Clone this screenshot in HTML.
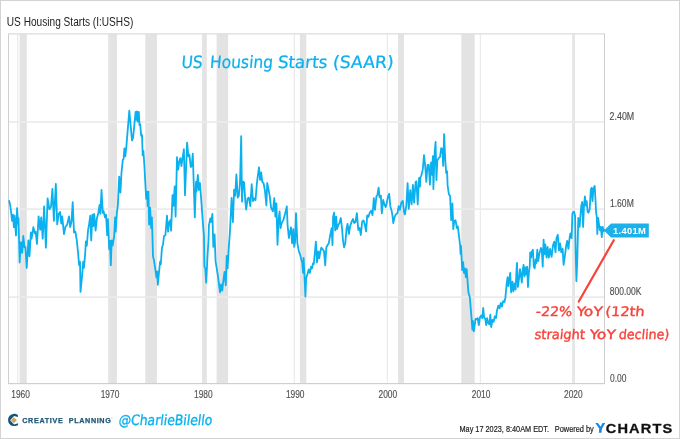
<!DOCTYPE html>
<html lang="en"><head><meta charset="utf-8"><title>US Housing Starts (I:USHS)</title>
<style>
html,body{margin:0;padding:0;background:#fff}
body{width:680px;height:439px;overflow:hidden}
svg{display:block;will-change:transform}
text{font-family:"Liberation Sans",sans-serif}
.ax text{font-size:10px;fill:#505050;stroke:#505050;stroke-width:0.15px}
.hand text{font-family:"DejaVu Sans","Liberation Sans",sans-serif}
</style></head><body>
<svg width="680" height="439" viewBox="0 0 680 439">
<rect x="0" y="0" width="680" height="439" fill="#fff"/>
<rect x="0.5" y="0.5" width="679" height="438" fill="none" stroke="#d3d3d3" stroke-width="1"/>
<text x="6.8" y="25.6" font-size="12" fill="#222" textLength="126.5" lengthAdjust="spacingAndGlyphs">US Housing Starts (I:USHS)</text>
<g><rect x="19.6" y="34" width="7.2" height="349" fill="#e3e3e3"/><rect x="108.2" y="34" width="8.7" height="349" fill="#e3e3e3"/><rect x="145.3" y="34" width="11.6" height="349" fill="#e3e3e3"/><rect x="202.0" y="34" width="4.8" height="349" fill="#e3e3e3"/><rect x="216.6" y="34" width="11.5" height="349" fill="#e3e3e3"/><rect x="299.9" y="34" width="6.4" height="349" fill="#e3e3e3"/><rect x="398.1" y="34" width="5.9" height="349" fill="#e3e3e3"/><rect x="461.3" y="34" width="13.4" height="349" fill="#e3e3e3"/><rect x="572.2" y="34" width="2.7" height="349" fill="#e3e3e3"/></g>
<g><rect x="17.2" y="34" width="1" height="349" fill="#e6e6e6"/><rect x="109.7" y="34" width="1" height="349" fill="#e6e6e6"/><rect x="202.3" y="34" width="1" height="349" fill="#e6e6e6"/><rect x="293.8" y="34" width="1" height="349" fill="#e6e6e6"/><rect x="386.8" y="34" width="1" height="349" fill="#e6e6e6"/><rect x="479.8" y="34" width="1" height="349" fill="#e6e6e6"/><rect x="572.9" y="34" width="1" height="349" fill="#e6e6e6"/></g>
<g><rect x="9" y="121.15" width="595" height="1.7" fill="#ebebeb"/><rect x="9" y="208.25" width="595" height="1.7" fill="#ebebeb"/><rect x="9" y="296.25" width="595" height="1.7" fill="#ebebeb"/></g>
<rect x="8" y="33.2" width="597" height="1.3" fill="#dedede"/>
<rect x="8" y="34" width="1" height="350" fill="#cfcfcf"/>
<rect x="604" y="34" width="1" height="350" fill="#cfcfcf"/>
<rect x="8" y="383" width="597" height="1.2" fill="#cfcfcf"/>
<path d="M9.2 201.0 L10.3 205.8 L11.2 213.0 L12.1 220.9 L13.0 214.7 L13.9 227.1 L14.6 215.6 L16.0 235.5 L17.1 208.1 L18.0 223.6 L18.5 218.2 L19.6 262.6 L21.0 242.1 L22.2 252.8 L23.3 236.0 L24.5 247.4 L25.4 247.0 L26.7 267.9 L28.4 240.3 L29.5 256.3 L30.9 232.4 L31.6 238.7 L33.4 227.1 L34.8 233.3 L35.6 231.6 L37.0 244.0 L38.6 216.4 L40.2 229.8 L41.2 217.3 L42.7 238.7 L44.1 206.3 L45.9 247.7 L47.6 198.3 L49.4 209.3 L51.0 206.7 L52.4 188.9 L53.9 220.9 L55.8 183.9 L57.2 224.4 L58.7 213.8 L60.1 212.0 L61.3 223.6 L62.2 216.4 L64.0 234.2 L65.4 227.1 L67.2 224.4 L69.0 216.4 L70.2 227.1 L71.5 221.8 L72.7 202.2 L74.0 232.4 L75.4 231.6 L76.8 240.4 L78.0 252.0 L79.1 265.2 L80.0 261.7 L80.5 291.9 L82.1 275.9 L83.2 261.7 L83.9 267.9 L85.0 256.0 L85.9 241.3 L86.8 245.8 L88.0 230.7 L89.2 223.6 L90.3 215.6 L91.2 240.4 L92.4 214.7 L93.3 226.2 L94.2 213.8 L95.6 230.7 L96.9 218.2 L98.3 212.9 L99.6 204.9 L100.4 213.8 L101.5 189.8 L102.8 212.9 L103.6 211.1 L104.9 217.3 L106.0 214.7 L107.2 235.1 L107.9 219.1 L109.2 249.2 L110.0 241.0 L110.8 265.2 L111.7 240.3 L112.6 245.7 L113.5 240.0 L114.2 236.0 L115.1 217.4 L115.7 231.6 L116.9 212.1 L117.8 206.0 L119.2 176.6 L120.4 192.6 L121.5 172.5 L122.8 159.9 L123.6 159.0 L124.4 148.3 L125.3 156.4 L126.3 147.4 L129.3 110.6 L132.0 140.3 L133.1 137.7 L135.6 111.9 L136.4 119.9 L137.0 111.4 L137.7 121.7 L138.8 111.9 L139.5 125.2 L140.2 124.3 L141.2 135.9 L142.0 135.0 L142.7 155.4 L143.4 151.0 L144.4 166.0 L145.3 182.8 L146.2 198.8 L147.1 191.7 L147.7 205.9 L148.4 191.7 L149.1 224.6 L150.1 207.7 L151.2 228.1 L151.9 217.4 L153.0 256.3 L153.9 259.9 L155.5 270.6 L156.5 277.7 L157.2 271.4 L157.8 284.8 L159.0 272.3 L160.1 261.7 L160.8 264.3 L161.9 248.3 L163.1 243.9 L164.0 236.1 L165.4 235.2 L167.0 215.7 L168.1 231.7 L169.3 221.9 L170.4 220.1 L171.1 230.8 L172.5 195.2 L173.4 205.9 L174.7 186.3 L175.6 216.6 L177.0 157.2 L178.2 169.7 L179.1 162.6 L180.4 158.1 L181.4 166.1 L182.7 157.2 L183.9 149.2 L185.0 195.2 L187.1 142.6 L188.4 156.3 L189.4 154.6 L190.7 167.0 L191.7 166.1 L192.8 153.7 L193.7 182.8 L194.8 217.4 L196.0 181.9 L196.5 191.7 L197.8 174.8 L198.8 189.9 L199.9 182.8 L201.3 200.6 L202.8 221.9 L204.0 236.1 L204.4 266.7 L205.3 268.4 L206.2 282.7 L207.5 256.0 L208.5 240.0 L208.9 225.6 L210.3 218.4 L211.2 222.0 L212.4 214.0 L213.3 246.9 L214.6 234.4 L215.6 261.7 L216.9 269.3 L218.1 277.3 L219.2 286.2 L220.1 292.4 L221.0 284.4 L222.2 290.7 L223.1 282.7 L224.5 272.0 L225.8 285.3 L226.7 256.0 L227.6 268.4 L228.8 247.1 L229.9 232.7 L230.6 218.4 L231.6 198.0 L232.9 222.0 L234.1 189.6 L235.2 195.8 L236.4 174.4 L237.7 197.6 L238.8 195.8 L240.0 183.3 L241.2 136.2 L242.0 201.6 L243.0 181.6 L244.1 182.4 L245.3 201.1 L246.2 209.6 L247.6 198.4 L248.9 197.6 L250.3 206.0 L251.7 184.2 L253.0 201.1 L254.2 198.4 L255.5 200.2 L256.9 183.3 L257.8 176.2 L259.0 167.3 L260.1 179.8 L261.2 172.3 L262.2 181.6 L263.6 183.3 L264.9 190.4 L266.4 205.5 L267.2 183.0 L268.4 188.7 L269.7 195.8 L271.1 207.8 L272.9 211.3 L274.3 198.2 L275.4 216.7 L276.4 203.3 L277.5 244.8 L278.6 220.2 L279.6 211.3 L280.5 228.2 L281.8 222.9 L283.6 219.3 L285.3 213.1 L286.8 206.4 L287.6 225.6 L288.9 238.0 L289.8 232.7 L291.0 227.3 L292.1 243.3 L293.3 229.1 L294.2 246.9 L295.1 241.6 L296.0 213.1 L297.4 243.3 L298.7 250.4 L300.4 255.8 L301.7 261.1 L302.2 262.2 L303.1 272.9 L303.6 257.8 L304.9 284.4 L305.4 296.5 L306.1 278.2 L307.6 273.8 L308.8 269.3 L309.9 272.9 L311.1 266.7 L312.0 268.4 L313.1 263.1 L313.8 264.0 L315.9 241.6 L317.0 262.5 L318.2 251.5 L319.2 258.3 L320.4 251.2 L321.3 247.7 L322.8 249.4 L324.0 251.2 L325.2 265.4 L326.3 247.7 L327.6 245.0 L328.8 243.2 L330.2 235.2 L331.6 228.1 L332.5 245.0 L333.1 216.6 L334.1 212.7 L335.2 230.5 L336.2 216.6 L337.0 229.0 L338.2 225.4 L339.5 222.8 L340.8 218.0 L342.0 228.1 L343.0 240.6 L344.1 247.3 L345.3 243.2 L346.6 228.1 L347.6 223.8 L348.9 234.0 L350.1 226.3 L351.6 221.9 L353.0 219.0 L354.2 223.0 L355.5 222.0 L356.9 213.1 L358.3 230.0 L359.6 228.0 L360.8 235.0 L362.2 221.5 L363.6 220.5 L364.9 225.0 L366.1 231.4 L367.2 215.4 L368.4 217.0 L369.7 212.7 L371.1 210.7 L372.5 215.1 L373.8 198.2 L375.0 209.8 L376.4 196.4 L377.3 195.6 L378.6 187.6 L379.6 197.3 L380.9 195.6 L381.8 213.3 L383.2 200.0 L384.4 204.4 L385.7 207.1 L386.8 202.7 L388.0 196.4 L389.2 193.8 L390.3 206.2 L391.6 210.7 L392.4 215.1 L393.3 223.1 L394.6 216.9 L396.0 214.2 L397.4 213.3 L398.7 206.2 L399.9 209.8 L401.3 202.7 L402.8 200.9 L404.0 211.6 L404.9 214.4 L406.3 206.2 L407.6 183.1 L408.8 208.9 L410.2 190.2 L411.6 204.4 L412.9 184.9 L414.1 202.7 L415.6 182.2 L416.4 181.3 L417.7 204.4 L419.1 177.8 L420.0 186.7 L420.4 177.4 L421.3 175.7 L422.8 169.4 L424.0 155.2 L425.2 165.9 L426.3 181.9 L427.6 165.0 L428.8 165.0 L429.9 184.6 L431.1 162.3 L432.0 174.8 L432.9 156.1 L433.4 189.0 L434.7 151.7 L435.6 141.9 L436.4 180.1 L437.3 160.6 L438.8 157.9 L440.0 157.0 L441.2 148.1 L442.3 149.0 L443.2 165.9 L444.1 134.2 L445.3 160.6 L446.2 173.0 L447.1 171.2 L447.6 185.4 L448.9 194.3 L450.1 196.1 L451.2 220.2 L452.4 203.3 L453.3 229.1 L454.2 221.1 L455.5 220.2 L456.9 228.2 L457.8 226.4 L459.0 236.2 L460.1 245.1 L460.6 254.0 L461.0 246.0 L462.2 270.1 L463.1 262.1 L464.0 272.8 L464.9 268.3 L465.8 277.2 L466.7 269.2 L467.6 281.7 L468.4 292.3 L469.9 297.7 L470.6 306.6 L471.6 319.0 L472.4 329.7 L472.9 320.8 L473.8 331.4 L474.8 324.3 L475.6 319.0 L477.0 319.0 L477.7 318.1 L478.8 325.2 L480.0 317.2 L481.2 315.4 L482.3 318.1 L483.2 308.0 L484.1 317.2 L485.3 319.0 L486.2 325.2 L487.1 318.1 L488.4 323.4 L489.4 324.3 L490.3 314.6 L491.2 327.0 L492.4 319.9 L493.7 321.7 L494.8 316.3 L496.0 318.1 L496.9 311.0 L498.3 305.7 L499.6 308.3 L500.8 303.0 L501.9 306.6 L503.1 301.2 L504.4 302.1 L505.4 297.7 L506.7 283.4 L507.6 277.2 L508.4 286.1 L509.3 279.9 L510.2 272.8 L511.1 292.3 L512.5 281.7 L513.4 291.4 L514.7 283.4 L515.6 289.7 L516.4 272.8 L517.0 263.0 L517.9 287.0 L519.1 278.1 L520.0 269.2 L520.9 274.6 L521.8 282.6 L522.7 270.1 L523.6 264.8 L524.4 276.3 L525.3 267.4 L526.2 274.6 L527.1 266.6 L528.0 287.0 L528.9 272.8 L529.8 265.7 L530.2 252.3 L531.1 257.7 L532.0 251.4 L532.9 249.7 L533.8 266.6 L534.7 268.3 L535.6 259.4 L536.4 263.0 L537.3 249.7 L538.2 261.2 L539.5 253.2 L540.9 247.9 L541.8 249.7 L542.7 266.6 L543.6 239.6 L544.4 254.1 L545.3 244.3 L546.6 257.7 L547.6 247.0 L548.9 257.7 L550.1 248.8 L551.6 256.8 L553.0 245.2 L554.2 241.7 L555.5 252.3 L556.5 238.1 L557.8 234.8 L559.0 250.6 L560.1 243.4 L561.3 252.3 L562.6 248.8 L563.6 264.8 L564.9 255.9 L566.1 246.1 L567.2 240.8 L568.4 248.8 L569.7 237.2 L570.4 233.4 L571.6 238.1 L572.4 213.6 L573.3 211.8 L574.2 212.0 L575.1 216.2 L575.6 250.0 L576.4 281.1 L577.3 259.4 L578.3 218.0 L579.6 226.9 L580.4 216.2 L581.3 205.6 L582.2 202.0 L583.1 226.9 L584.0 205.6 L584.9 196.3 L585.8 205.6 L586.7 201.1 L587.6 211.8 L588.4 212.7 L589.7 209.1 L590.8 189.6 L591.6 187.8 L592.5 201.1 L593.4 188.7 L594.7 186.0 L595.6 202.0 L596.1 212.7 L596.8 217.1 L597.3 234.0 L598.2 218.0 L599.1 225.1 L600.0 230.4 L600.9 226.9 L601.8 237.2 L602.7 226.9 L603.6 231.3 L604.4 230.0" fill="none" stroke="#0bb0ee" stroke-width="1.8" stroke-linejoin="round" stroke-linecap="round"/>
<g class="ax"><text x="20.6" y="397.6" style="font-size:10.6px" text-anchor="middle" textLength="18.6" lengthAdjust="spacingAndGlyphs">1960</text><text x="110.0" y="397.6" style="font-size:10.6px" text-anchor="middle" textLength="18.6" lengthAdjust="spacingAndGlyphs">1970</text><text x="203.3" y="397.6" style="font-size:10.6px" text-anchor="middle" textLength="18.6" lengthAdjust="spacingAndGlyphs">1980</text><text x="295.2" y="397.6" style="font-size:10.6px" text-anchor="middle" textLength="18.6" lengthAdjust="spacingAndGlyphs">1990</text><text x="387.8" y="397.6" style="font-size:10.6px" text-anchor="middle" textLength="18.6" lengthAdjust="spacingAndGlyphs">2000</text><text x="481.1" y="397.6" style="font-size:10.6px" text-anchor="middle" textLength="18.6" lengthAdjust="spacingAndGlyphs">2010</text><text x="573.3" y="397.6" style="font-size:10.6px" text-anchor="middle" textLength="18.6" lengthAdjust="spacingAndGlyphs">2020</text>
<text x="609.6" y="120.3" textLength="24.6" lengthAdjust="spacingAndGlyphs">2.40M</text>
<text x="609.9" y="207.3" textLength="23.9" lengthAdjust="spacingAndGlyphs">1.60M</text>
<text x="609.8" y="294.9" textLength="31.6" lengthAdjust="spacingAndGlyphs">800.00K</text>
<text x="610" y="381.8" textLength="16.4" lengthAdjust="spacingAndGlyphs">0.00</text>
</g>
<path d="M604 230.4 L611 223.5 H648.8 V237.4 H611 Z" fill="#1cb1e8"/>
<text x="612.9" y="234.2" font-size="9.4" font-weight="bold" fill="#fff" textLength="33" lengthAdjust="spacing">1.401M</text>
<path d="M613.8 240.2 L578.8 301.5" stroke="#f8433a" stroke-width="2.2" fill="none" stroke-linecap="round"/>
<g class="hand" font-size="17" fill="#0bb0ee" stroke="#0bb0ee" stroke-width="0.25" stroke-linejoin="round"><text transform="translate(180.9 68.1) skewX(-5)" textLength="21.4" lengthAdjust="spacingAndGlyphs">US</text><text transform="translate(209.6 68.1) skewX(-5)" textLength="63.0" lengthAdjust="spacingAndGlyphs">Housing</text><text transform="translate(277.4 68.1) skewX(-5)" textLength="49.5" lengthAdjust="spacingAndGlyphs">Starts</text><text transform="translate(332.4 68.1) skewX(-5)" textLength="60.8" lengthAdjust="spacingAndGlyphs">(SAAR)</text></g>
<g class="hand" font-size="13.2" fill="#f8433a" stroke="#f8433a" stroke-width="0.4" stroke-linejoin="round"><text transform="translate(535.6 316.1) skewX(-5)" textLength="36.4" lengthAdjust="spacingAndGlyphs">-22%</text><text transform="translate(576.2 316.1) skewX(-5)" textLength="26.1" lengthAdjust="spacingAndGlyphs">YoY</text><text transform="translate(605.0 316.1) skewX(-5)" textLength="39.2" lengthAdjust="spacingAndGlyphs">(12th</text></g><g class="hand" font-size="13.2" fill="#f8433a" stroke="#f8433a" stroke-width="0.4" stroke-linejoin="round"><text transform="translate(534.3 338.6) skewX(-5)" textLength="50.3" lengthAdjust="spacingAndGlyphs">straight</text><text transform="translate(589.2 338.6) skewX(-5)" textLength="26.3" lengthAdjust="spacingAndGlyphs">YoY</text><text transform="translate(618.6 338.6) skewX(-5)" textLength="50.4" lengthAdjust="spacingAndGlyphs">decline)</text></g>
<g>
<path d="M17.9 415.0 C16.5 413.9 14.6 413.7 13.2 413.9 C10.2 414.3 8.1 416.8 8.1 420 C8.1 423.2 10.2 425.7 13.2 426.0 C14.8 426.2 16.8 425.9 18.1 425.0 L18.1 423.3 L14.1 424.4 L10.1 420.2 L14.1 416.0 L18.0 417.1 Z" fill="#16557a"/>
<path d="M13.9 417.2 L16.9 420.2 L13.9 423.2 L10.9 420.2 Z" fill="#c8a569"/>
<text x="22.2" y="422.9" font-size="7.2" font-weight="bold" fill="#1e5573" stroke="#1e5573" stroke-width="0.25" letter-spacing="0.68">CREATIVE</text>
<text x="68.8" y="422.9" font-size="7.2" font-weight="bold" fill="#1e5573" stroke="#1e5573" stroke-width="0.25" letter-spacing="0.63">PLANNING</text>
<text x="111.3" y="419.2" font-size="2.2" fill="#1e5573">®</text>
</g>
<g class="hand" font-size="14.3" fill="#0bb0ee" stroke="#0bb0ee" stroke-width="0.35" stroke-linejoin="round"><text transform="translate(118.2 424.5) skewX(-7)" textLength="93.6" lengthAdjust="spacingAndGlyphs">@CharlieBilello</text></g>
<text x="459.5" y="432.2" font-size="9.3" fill="#222" stroke="#222" stroke-width="0.2" textLength="89.5" lengthAdjust="spacingAndGlyphs">May 17 2023, 8:40AM EDT.</text>
<text x="554.8" y="432.2" font-size="9.3" fill="#222" stroke="#222" stroke-width="0.2" textLength="39" lengthAdjust="spacingAndGlyphs">Powered by</text>
<path d="M595.3 422.9 L597.9 422.9 L600.6 426.7 L602.5 422.9 L605.2 422.9 L601.8 428.9 L601.5 432.8 L598.9 432.8 L599.2 428.5 Z" fill="#1486ea"/>
<text transform="translate(605.8 432.6) scale(1.08 1)" font-size="13.5" font-weight="bold" fill="#111" stroke="#111" stroke-width="0.3" letter-spacing="1.05">CHARTS</text>
</svg>
</body></html>
